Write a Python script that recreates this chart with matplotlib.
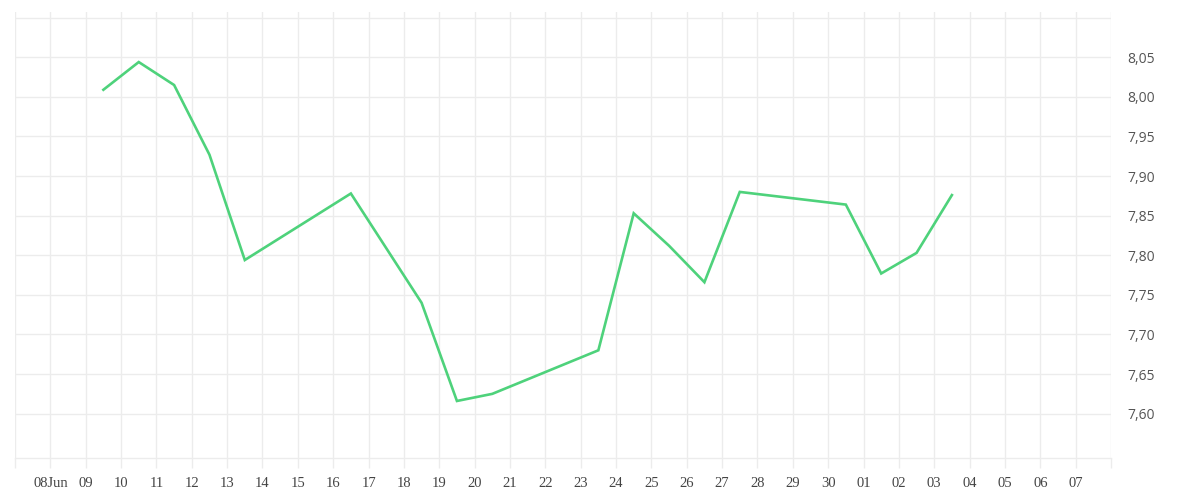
import matplotlib
matplotlib.use("Agg")
import matplotlib.pyplot as plt
import matplotlib.dates as mdates
from matplotlib.ticker import FixedLocator, FuncFormatter
import pandas as pd

# ---- data ----
dates = ["2024-06-09 12:00", "2024-06-10 12:00", "2024-06-11 12:00", "2024-06-12 12:00",
         "2024-06-13 12:00", "2024-06-16 12:00", "2024-06-18 12:00", "2024-06-19 12:00",
         "2024-06-20 12:00", "2024-06-23 12:00", "2024-06-24 12:00", "2024-06-25 12:00",
         "2024-06-26 12:00", "2024-06-27 12:00", "2024-06-30 12:00", "2024-07-01 12:00",
         "2024-07-02 12:00", "2024-07-03 12:00"]
values = [8.009, 8.044, 8.015, 7.927, 7.794, 7.878, 7.740, 7.616, 7.625, 7.680,
          7.853, 7.812, 7.766, 7.880, 7.864, 7.777, 7.803, 7.876]

tick_days = pd.date_range("2024-06-07", "2024-07-08", freq="D")
tick_labels = ["", "08Jun", "09", "10", "11", "12", "13", "14", "15", "16", "17", "18",
               "19", "20", "21", "22", "23", "24", "25", "26", "27", "28", "29", "30",
               "01", "02", "03", "04", "05", "06", "07", ""]
y_ticks = [7.60, 7.65, 7.70, 7.75, 7.80, 7.85, 7.90, 7.95, 8.00, 8.05]
y_grid = y_ticks + [8.10]

GRID = "#ececec"
LINE = "#4ed27b"

fig = plt.figure(figsize=(12, 5), dpi=100)
ax = fig.add_axes([15 / 1200, 1 - 458 / 500, (1111 - 15) / 1200, (458 - 12) / 500])

x = pd.to_datetime(dates)
ax.plot(x, values, color=LINE, lw=1.9, solid_joinstyle="miter", zorder=3)

ax.set_xlim(tick_days[0], tick_days[-1])
ax.set_ylim(7.544, 8.1072)

# horizontal grid
for yv in y_grid:
    ax.axhline(yv, color=GRID, lw=1, zorder=0)

# x ticks / vertical grid
ax.xaxis.set_major_locator(FixedLocator(mdates.date2num(tick_days)))
ax.set_xticklabels(tick_labels)
ax.grid(axis="x", color=GRID, lw=1, zorder=0)
ax.tick_params(axis="x", length=7.2, width=1, color=GRID, pad=6.5, labelsize=10.5,
               labelcolor="#444444")
for lab in ax.get_xticklabels():
    lab.set_fontfamily("Liberation Serif")

# y axis on the right
ax.yaxis.tick_right()
ax.yaxis.set_major_locator(FixedLocator(y_ticks))
ax.yaxis.set_major_formatter(FuncFormatter(lambda v, p: f"{v:.2f}".replace(".", ",")))
ax.tick_params(axis="y", length=0, pad=11.5, labelsize=10, labelcolor="#555555")
for lab in ax.get_yticklabels():
    lab.set_fontfamily("Open Sans")

for side in ["top", "left", "right"]:
    ax.spines[side].set_visible(False)
ax.spines["bottom"].set_color(GRID)
ax.spines["bottom"].set_linewidth(1)

fig.savefig("out.png", dpi=100, facecolor="white")
